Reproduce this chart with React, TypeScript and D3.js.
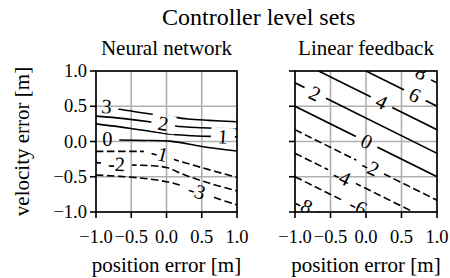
import React from "react";
import * as d3 from "d3";

// axis ticks shared by both panels
const ticks = [-1, -0.5, 0, 0.5, 1];
const tickLabels = ["\u22121.0", "\u22120.5", "0.0", "0.5", "1.0"];

// neural network controller level sets: [position, velocity]
const nnLevels = [-3, -2, -1, 0, 1, 2, 3];
const nnLines: [number, number][][] = [
  [[-1, -0.475], [-0.4, -0.515], [0, -0.57], [0.25, -0.635], [0.45, -0.705], [0.7, -0.8], [1, -0.9]],
  [[-1, -0.3], [-0.49, -0.333], [-0.19, -0.345], [0, -0.37], [0.26, -0.475], [0.6, -0.59], [1, -0.7]],
  [[-1, -0.14], [-0.5, -0.14], [-0.26, -0.145], [-0.1, -0.17], [0.05, -0.235], [0.5, -0.37], [1, -0.51]],
  [[-1, 0.03], [-0.68, 0.021], [-0.3, 0.015], [0.05, 0.005], [0.5, -0.07], [1, -0.135]],
  [[-1, 0.25], [-0.5, 0.185], [0, 0.11], [0.3, 0.085], [0.64, 0.072], [1, 0.065]],
  [[-1, 0.36], [-0.6, 0.325], [-0.19, 0.272], [0.12, 0.22], [0.5, 0.195], [1, 0.177]],
  [[-1, 0.48], [-0.68, 0.457], [-0.3, 0.4], [0, 0.36], [0.3, 0.32], [0.6, 0.3], [1, 0.28]],
];
// label position [x, v, rotation in degrees]
const nnLabels: [number, number, number][] = [
  [0.43, -0.7, 18],
  [-0.71, -0.32, 2],
  [-0.1, -0.17, 15],
  [-0.84, 0.035, 0],
  [0.8, 0.07, 4],
  [-0.045, 0.255, 10],
  [-0.85, 0.5, 4],
];

// linear feedback level sets (straight lines)
const linLevels = [-8, -6, -4, -2, 0, 2, 4, 6, 8];
const linLines: [number, number][][] = [
  [[-1, -0.833], [-0.667, -1]],
  [[-1, -0.5], [0, -1]],
  [[-1, -0.167], [0.667, -1]],
  [[-1, 0.167], [1, -0.833]],
  [[-1, 0.5], [1, -0.5]],
  [[-1, 0.833], [1, -0.167]],
  [[-0.667, 1], [1, 0.167]],
  [[0, 1], [1, 0.5]],
  [[0.667, 1], [1, 0.833]],
];
const linLabels: [number, number, number][] = [
  [-0.88, -0.9, 26],
  [-0.11, -0.92, 26],
  [-0.34, -0.5, 26],
  [0.06, -0.36, 26],
  [0.01, 0.0, 26],
  [-0.72, 0.68, 26],
  [0.22, 0.56, 26],
  [0.69, 0.66, 26],
  [0.78, 0.98, 26],
];

const FONT = "'Liberation Serif', 'Times New Roman', Times, serif";
const TOP = 71;
const BOTTOM = 212;

const y = d3.scaleLinear().domain([-1, 1]).range([BOTTOM, TOP]);

function labelWidth(s: string) {
  let w = 0;
  for (const c of s) w += c === "-" ? 7 : 10;
  return w;
}

function Panel({ id, x0, x1, title, levels, lines, labels, yLabels, curved }: any) {
  const x = d3.scaleLinear().domain([-1, 1]).range([x0, x1]);
  const line = d3
    .line<[number, number]>()
    .x((d) => x(d[0]))
    .y((d) => y(d[1]))
    .curve(curved ? d3.curveCatmullRom : d3.curveLinear);

  return (
    <g>
      <defs>
        <clipPath id={`clip-${id}`}>
          <rect x={x0} y={TOP} width={x1 - x0} height={BOTTOM - TOP} />
        </clipPath>
        <mask id={`mask-${id}`} maskUnits="userSpaceOnUse" x={0} y={0} width={450} height={278}>
          <rect x={0} y={0} width={450} height={278} fill="white" />
          {labels.map((l: [number, number, number], i: number) => {
            const w = labelWidth(String(levels[i])) + 14;
            return (
              <rect
                key={i}
                x={-w / 2}
                y={-9}
                width={w}
                height={18}
                fill="black"
                transform={`translate(${x(l[0])},${y(l[1])}) rotate(${l[2]})`}
              />
            );
          })}
        </mask>
      </defs>

      {/* grid */}
      {ticks.map((t) => (
        <g key={t}>
          <line x1={x(t)} x2={x(t)} y1={TOP} y2={BOTTOM} stroke="#b0b0b0" strokeWidth={1.6} />
          <line x1={x0} x2={x1} y1={y(t)} y2={y(t)} stroke="#b0b0b0" strokeWidth={1.6} />
        </g>
      ))}

      {/* contour lines */}
      <g clipPath={`url(#clip-${id})`}>
        <g mask={`url(#mask-${id})`}>
          {lines.map((pts: [number, number][], i: number) => (
            <path
              key={i}
              d={line(pts) || ""}
              fill="none"
              stroke="#000"
              strokeWidth={1.6}
              strokeDasharray={levels[i] < 0 ? "7.5,3.5" : undefined}
            />
          ))}
        </g>
        {labels.map((l: [number, number, number], i: number) => (
          <text
            key={i}
            transform={`translate(${x(l[0])},${y(l[1])}) rotate(${l[2]})`}
            textAnchor="middle"
            dominantBaseline="central"
            fontSize={20.5}
            fontFamily={FONT}
          >
            {String(levels[i])}
          </text>
        ))}
      </g>

      {/* spines */}
      <rect x={x0} y={TOP} width={x1 - x0} height={BOTTOM - TOP} fill="none" stroke="#000" strokeWidth={1.6} />

      {/* ticks */}
      {ticks.map((t, i) => (
        <g key={t}>
          <line x1={x(t)} x2={x(t)} y1={BOTTOM} y2={BOTTOM + 6} stroke="#000" strokeWidth={1.6} />
          <line x1={x0 - 6} x2={x0} y1={y(t)} y2={y(t)} stroke="#000" strokeWidth={1.6} />
          <text x={x(t)} y={243} textAnchor="middle" fontSize={18.5} fontFamily={FONT}>
            {tickLabels[i]}
          </text>
          {yLabels && (
            <text
              x={x0 - 9}
              y={y(t)}
              textAnchor="end"
              dominantBaseline="central"
              fontSize={18.5}
              fontFamily={FONT}
            >
              {tickLabels[i]}
            </text>
          )}
        </g>
      ))}

      <text x={(x0 + x1) / 2} y={55} textAnchor="middle" fontSize={21} fontFamily={FONT}>
        {title}
      </text>
      <text x={(x0 + x1) / 2} y={271.5} textAnchor="middle" fontSize={21} fontFamily={FONT}>
        position error [m]
      </text>
    </g>
  );
}

export default function App() {
  return (
    <svg
      width={450}
      height={278}
      style={{ position: "absolute", left: 0, top: 0, background: "#fff" }}
    >
      <rect width={450} height={278} fill="#fff" />
      <text x={258.7} y={25} textAnchor="middle" fontSize={24} fontFamily={FONT}>
        Controller level sets
      </text>
      <text
        transform={`translate(28.5,${(TOP + BOTTOM) / 2}) rotate(-90)`}
        textAnchor="middle"
        fontSize={21}
        fontFamily={FONT}
      >
        velocity error [m]
      </text>
      <Panel
        id="nn"
        x0={96}
        x1={237}
        title="Neural network"
        levels={nnLevels}
        lines={nnLines}
        labels={nnLabels}
        yLabels={true}
        curved={true}
      />
      <Panel
        id="lin"
        x0={295}
        x1={437}
        title="Linear feedback"
        levels={linLevels}
        lines={linLines}
        labels={linLabels}
        yLabels={false}
        curved={false}
      />
    </svg>
  );
}
